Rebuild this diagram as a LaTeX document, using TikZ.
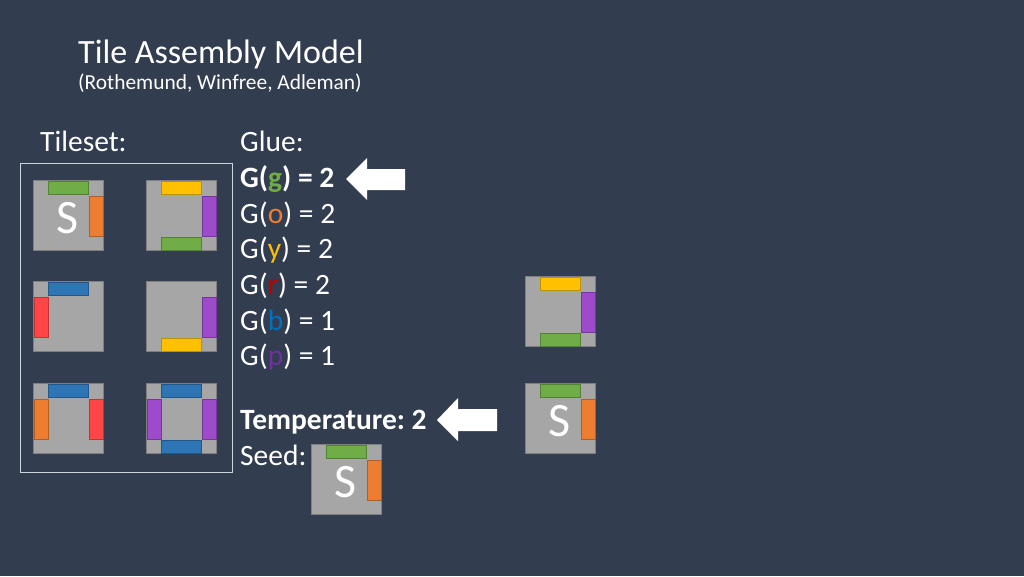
\documentclass[tikz,border=0pt]{standalone}
\usepackage{fontspec}
\setmainfont{Carlito}
\usetikzlibrary{calc}
\frenchspacing
\definecolor{bg}{HTML}{333D50}
\definecolor{tilegray}{HTML}{A6A6A6}
\definecolor{tileedge}{HTML}{7F7F7F}
\definecolor{gG}{HTML}{70AD47}
\definecolor{gO}{HTML}{ED7D31}
\definecolor{gY}{HTML}{FFC000}
\definecolor{gP}{HTML}{9E4BCB}
\definecolor{gB}{HTML}{2E75B6}
\definecolor{gR}{HTML}{FF4545}
\definecolor{tR}{HTML}{C00000}
\definecolor{tB}{HTML}{0070C0}
\definecolor{tP}{HTML}{7030A0}
\definecolor{framecol}{HTML}{D0D4DC}
\newcommand\tilebox[3]{\node[tile] (#1) at (#2,#3) {};}
\newcommand\gtop[2]{\node[glueh, fill=#2, draw=#2!75!black, anchor=north] (#1-n) at ($(#1.north)+(0,0.5)$) {};}
\newcommand\gbot[2]{\node[glueh, fill=#2, draw=#2!75!black, anchor=south] (#1-s) at ($(#1.south)+(0,-0.5)$) {};}
\newcommand\gright[2]{\node[gluev, fill=#2, draw=#2!75!black, anchor=east] (#1-e) at ($(#1.east)+(-0.5,1)$) {};}
\newcommand\gleft[2]{\node[gluev, fill=#2, draw=#2!75!black, anchor=west] (#1-w) at ($(#1.west)+(0.5,1)$) {};}
\newcommand\seedS[1]{\node[stext] (#1-lbl) at ($(#1.center)+(-1,3)$) {S};}
\begin{document}
\begin{tikzpicture}[x=1pt,y=-1pt,
  tile/.style={draw=tileedge, fill=tilegray, line width=1pt, minimum width=70pt, minimum height=70pt, inner sep=0pt, anchor=north west},
  glueh/.style={minimum width=40pt, minimum height=13pt, inner sep=0pt, line width=0.6pt},
  gluev/.style={minimum width=14pt, minimum height=40pt, inner sep=0pt, line width=0.6pt},
  stext/.style={text=white, font=\fontsize{48}{50}\selectfont, inner sep=0pt},
  txt/.style={text=white, anchor=base west, inner sep=0pt, font=\fontsize{29.5}{34}\selectfont},
  bigarrow/.style={fill=white}
]
\fill[bg] (0,0) rectangle (1024,576);
\useasboundingbox (0,0) rectangle (1024,576);

% titles
\node[text=white, anchor=base west, inner sep=0pt, font=\fontsize{34}{40}\selectfont] (title) at (78,63) {Tile Assembly Model};
\node[text=white, anchor=base west, inner sep=0pt, font=\fontsize{21.4}{26}\selectfont] (sub) at (78,89) {(Rothemund, Winfree, Adleman)};

% tileset
\node[txt] (tileset) at (40,151) {Tileset:};
\draw[framecol, line width=1pt] (20,163) rectangle (232,472);

\tilebox{t1}{33}{180}
\gtop{t1}{gG}\gright{t1}{gO}\seedS{t1}
\tilebox{t2}{146}{180}
\gtop{t2}{gY}\gright{t2}{gP}\gbot{t2}{gG}
\tilebox{t3}{33}{281}
\gtop{t3}{gB}\gleft{t3}{gR}
\tilebox{t4}{146}{281}
\gright{t4}{gP}\gbot{t4}{gY}
\tilebox{t5}{33}{383}
\gtop{t5}{gB}\gleft{t5}{gO}\gright{t5}{gR}
\tilebox{t6}{146}{383}
\gtop{t6}{gB}\gleft{t6}{gP}\gright{t6}{gP}\gbot{t6}{gB}

% glue
\node[txt] (glue) at (240,151) {Glue:};
\node[txt] (Gg) at (240,187) {\bfseries G(\textcolor{gG}{g}) = 2};
\node[txt] (Go) at (240,223) {G(\textcolor{gO}{o}) = 2};
\node[txt] (Gy) at (240,258) {G(\textcolor{gY}{y}) = 2};
\node[txt] (Gr) at (240,294) {G(\textcolor{tR}{r}) = 2};
\node[txt] (Gb) at (240,330) {G(\textcolor{tB}{b}) = 1};
\node[txt] (Gp) at (240,365) {G(\textcolor{tP}{p}) = 1};
\node[txt] (temp) at (240,429) {\bfseries Temperature: 2};
\node[txt] (seed) at (240,465) {Seed:};

\tilebox{seedtile}{311}{444}
\gtop{seedtile}{gG}\gright{seedtile}{gO}\seedS{seedtile}

% arrows
\fill[bigarrow] (405,169) -- (367,169) -- (367,158) -- (346,179) -- (367,200) -- (367,190) -- (405,190) -- cycle;
\fill[bigarrow] (497,409) -- (458,409) -- (458,398) -- (437,420) -- (458,441) -- (458,431) -- (497,431) -- cycle;

% right tiles
\tilebox{ra}{525}{276}
\gtop{ra}{gY}\gright{ra}{gP}\gbot{ra}{gG}
\tilebox{rb}{525}{383}
\gtop{rb}{gG}\gright{rb}{gO}\seedS{rb}
\end{tikzpicture}
\end{document}
